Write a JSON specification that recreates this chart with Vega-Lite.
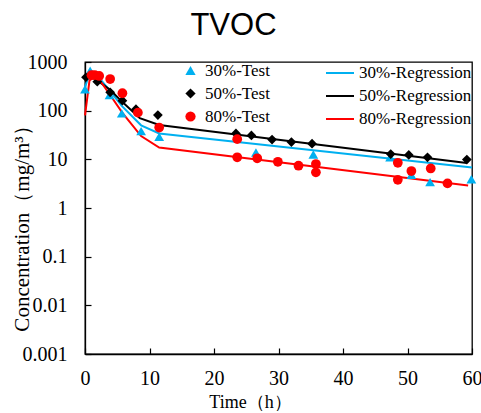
{
  "$schema": "https://vega.github.io/schema/vega-lite/v6.json",
  "width": 387,
  "height": 292,
  "autosize": {"type": "none"},
  "padding": {"left": 85, "top": 62, "right": 9, "bottom": 59},
  "background": "white",
  "title": {"text": "TVOC", "font": "Liberation Sans", "fontSize": 31, "fontWeight": "normal", "color": "#000", "anchor": "middle", "frame": "group", "dx": -45, "dy": 21, "baseline": "bottom", "offset": 0},
  "config": {
    "view": {"stroke": "#000", "strokeWidth": 1.3},
    "axis": {"grid": false, "labelFlush": false, "domainColor": "#000", "domainWidth": 1.3, "tickColor": "#000", "tickWidth": 1.2, "tickSize": -6, "labelFont": "Liberation Serif", "labelFontSize": 20, "labelColor": "#000", "titleFont": "Liberation Serif", "titleColor": "#000", "titleFontWeight": "normal"}
  },
  "datasets": {
    "tests": [
      {"t": 0.0, "c": 275, "s": "30%-Test"},
      {"t": 0.8, "c": 660, "s": "30%-Test"},
      {"t": 3.8, "c": 210, "s": "30%-Test"},
      {"t": 5.7, "c": 88, "s": "30%-Test"},
      {"t": 8.7, "c": 38, "s": "30%-Test"},
      {"t": 11.5, "c": 29, "s": "30%-Test"},
      {"t": 26.5, "c": 13.8, "s": "30%-Test"},
      {"t": 35.4, "c": 12.6, "s": "30%-Test"},
      {"t": 47.3, "c": 11, "s": "30%-Test"},
      {"t": 50.6, "c": 4.8, "s": "30%-Test"},
      {"t": 53.5, "c": 3.4, "s": "30%-Test"},
      {"t": 59.9, "c": 3.9, "s": "30%-Test"},
      {"t": 0.15, "c": 486, "s": "50%-Test"},
      {"t": 1.9, "c": 394, "s": "50%-Test"},
      {"t": 3.9, "c": 238, "s": "50%-Test"},
      {"t": 5.8, "c": 160, "s": "50%-Test"},
      {"t": 7.9, "c": 107, "s": "50%-Test"},
      {"t": 11.3, "c": 81, "s": "50%-Test"},
      {"t": 23.4, "c": 34, "s": "50%-Test"},
      {"t": 25.8, "c": 31, "s": "50%-Test"},
      {"t": 29.0, "c": 25.5, "s": "50%-Test"},
      {"t": 32.0, "c": 22.7, "s": "50%-Test"},
      {"t": 35.2, "c": 21, "s": "50%-Test"},
      {"t": 47.4, "c": 12.8, "s": "50%-Test"},
      {"t": 50.2, "c": 12.3, "s": "50%-Test"},
      {"t": 53.1, "c": 11, "s": "50%-Test"},
      {"t": 59.2, "c": 9.9, "s": "50%-Test"},
      {"t": 1.0, "c": 537, "s": "80%-Test"},
      {"t": 1.5, "c": 540, "s": "80%-Test"},
      {"t": 2.2, "c": 516, "s": "80%-Test"},
      {"t": 3.9, "c": 447, "s": "80%-Test"},
      {"t": 5.8, "c": 228, "s": "80%-Test"},
      {"t": 8.2, "c": 91, "s": "80%-Test"},
      {"t": 11.5, "c": 45, "s": "80%-Test"},
      {"t": 23.6, "c": 26, "s": "80%-Test"},
      {"t": 23.6, "c": 11, "s": "80%-Test"},
      {"t": 26.7, "c": 10.5, "s": "80%-Test"},
      {"t": 29.9, "c": 8.9, "s": "80%-Test"},
      {"t": 33.1, "c": 7.4, "s": "80%-Test"},
      {"t": 35.8, "c": 8.0, "s": "80%-Test"},
      {"t": 35.8, "c": 5.4, "s": "80%-Test"},
      {"t": 48.5, "c": 8.5, "s": "80%-Test"},
      {"t": 48.5, "c": 3.8, "s": "80%-Test"},
      {"t": 50.6, "c": 5.75, "s": "80%-Test"},
      {"t": 53.6, "c": 6.5, "s": "80%-Test"},
      {"t": 56.2, "c": 3.2, "s": "80%-Test"}
    ],
    "regs": [
      {"t": 0.0, "c": 300, "r": "30%-Regression"},
      {"t": 0.8, "c": 650, "r": "30%-Regression"},
      {"t": 1.5, "c": 610, "r": "30%-Regression"},
      {"t": 3.8, "c": 260, "r": "30%-Regression"},
      {"t": 5.7, "c": 125, "r": "30%-Regression"},
      {"t": 8.7, "c": 50, "r": "30%-Regression"},
      {"t": 11.5, "c": 34, "r": "30%-Regression"},
      {"t": 60.0, "c": 6.8, "r": "30%-Regression"},
      {"t": 0.0, "c": 470, "r": "50%-Regression"},
      {"t": 1.0, "c": 490, "r": "50%-Regression"},
      {"t": 2.0, "c": 410, "r": "50%-Regression"},
      {"t": 3.9, "c": 270, "r": "50%-Regression"},
      {"t": 5.8, "c": 150, "r": "50%-Regression"},
      {"t": 8.5, "c": 70, "r": "50%-Regression"},
      {"t": 11.5, "c": 51, "r": "50%-Regression"},
      {"t": 59.2, "c": 8.4, "r": "50%-Regression"},
      {"t": 0.0, "c": 80, "r": "80%-Regression"},
      {"t": 0.7, "c": 420, "r": "80%-Regression"},
      {"t": 1.4, "c": 480, "r": "80%-Regression"},
      {"t": 2.2, "c": 440, "r": "80%-Regression"},
      {"t": 3.9, "c": 210, "r": "80%-Regression"},
      {"t": 5.8, "c": 90, "r": "80%-Regression"},
      {"t": 8.7, "c": 30, "r": "80%-Regression"},
      {"t": 11.5, "c": 17.5, "r": "80%-Regression"},
      {"t": 59.4, "c": 2.9, "r": "80%-Regression"}
    ]
  },
  "encoding": {
    "x": {"field": "t", "type": "quantitative", "scale": {"domain": [0, 60], "nice": false, "zero": false},
      "axis": {"values": [0, 10, 20, 30, 40, 50, 60], "labelPadding": 20, "title": "Time（h）", "titleFontSize": 18, "titleX": 165, "titleY": 53, "titleBaseline": "alphabetic", "titleAlign": "center"}},
    "y": {"field": "c", "type": "quantitative", "scale": {"type": "log", "domain": [0.001, 1000], "nice": false},
      "axis": {"values": [0.001, 0.01, 0.1, 1, 10, 100, 1000], "format": "~g", "labelPadding": 24, "title": "Concentration（mg/m³）", "titleFontSize": 21, "titleAngle": -90, "titleX": -57, "titleY": 161, "titleBaseline": "alphabetic", "titleAlign": "center"}}
  },
  "layer": [
    {
      "data": {"name": "regs"},
      "mark": {"type": "line", "strokeWidth": 2},
      "encoding": {
        "stroke": {"field": "r", "type": "nominal",
          "scale": {"domain": ["30%-Regression", "50%-Regression", "80%-Regression"], "range": ["#00B0F0", "#000000", "#FF0000"]},
          "legend": {"orient": "none", "legendX": 240, "legendY": -4, "title": null, "padding": 0, "symbolType": "stroke", "symbolSize": 784, "symbolStrokeWidth": 2, "labelFont": "Liberation Serif", "labelFontSize": 17, "labelColor": "#000", "labelOffset": 4, "rowPadding": -6}}
      }
    },
    {
      "data": {"name": "tests"},
      "mark": {"type": "point", "filled": true, "opacity": 1, "size": 95},
      "encoding": {
        "color": {"field": "s", "type": "nominal",
          "scale": {"domain": ["30%-Test", "50%-Test", "80%-Test"], "range": ["#00B0F0", "#000000", "#FF0000"]},
          "legend": {"orient": "none", "legendX": 97, "legendY": 0, "title": null, "padding": 0, "symbolSize": 105, "labelFont": "Liberation Serif", "labelFontSize": 17, "labelColor": "#000", "labelOffset": 6, "rowPadding": 5}},
        "shape": {"field": "s", "type": "nominal",
          "scale": {"domain": ["30%-Test", "50%-Test", "80%-Test"], "range": ["triangle-up", "diamond", "circle"]},
          "legend": {"orient": "none", "legendX": 97, "legendY": 0, "title": null, "padding": 0, "symbolSize": 105, "labelFont": "Liberation Serif", "labelFontSize": 17, "labelColor": "#000", "labelOffset": 6, "rowPadding": 5}}
      }
    }
  ]
}
